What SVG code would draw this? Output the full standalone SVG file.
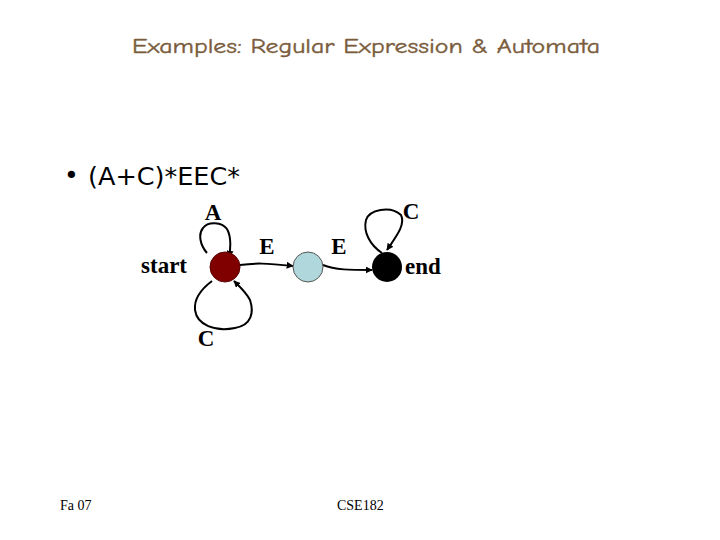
<svg xmlns="http://www.w3.org/2000/svg" width="720" height="540" viewBox="0 0 720 540">
<defs>
<marker id="ah" viewBox="0 0 10 10" refX="9" refY="5" markerWidth="7" markerHeight="7" markerUnits="userSpaceOnUse" orient="auto">
<path d="M0,0 L10,5 L0,10 z" fill="#000"/>
</marker>
<style>
.lbl{font-family:"Liberation Serif","Times New Roman",serif;font-weight:bold;font-size:23px;fill:#000}
.edge{fill:none;stroke:#000;stroke-width:2;marker-end:url(#ah)}
.title{font-family:"Comic Sans MS","Comic Neue","DejaVu Sans",sans-serif;font-size:21px;fill:#7a5c3c;stroke:#7a5c3c;stroke-width:0.4}
.foot{font-family:"Liberation Serif","Times New Roman",serif;font-size:14px;fill:#000}
.bullet{font-family:"Comic Sans MS","DejaVu Sans",sans-serif;font-size:25px;fill:#000}
</style>
</defs>
<rect width="720" height="540" fill="#fff"/>
<text class="title" x="132" y="53" textLength="468" lengthAdjust="spacingAndGlyphs">Examples: Regular Expression &amp; Automata</text>
<text class="bullet" x="64" y="184" font-size="16">•</text>
<text class="bullet" x="88" y="185" textLength="152" lengthAdjust="spacingAndGlyphs">(A+C)*EEC*</text>
<g id="connectors">
<path class="edge" d="M207,253 C200,245 198,234 203,228 C208,221 222,222 227,229 C231,236 231,246 229,257"/>
<path class="edge" d="M212,281 C200,290 194,300 195,310 C197,325 215,332 235,328 C252,325 254,312 250,300 C246,292 240,287 234,281"/>
<path class="edge" d="M240,265 C255,263 265,263 293,266"/>
<path class="edge" d="M323,265 C335,270 350,270 372,270"/>
<path class="edge" d="M382,253 C370,245 363,232 366,220 C369,210 390,205 401,215 C406,225 395,238 387,250"/>
</g>
<g id="q0"><circle cx="225" cy="267" r="15" fill="#800000" stroke="#5a0000" stroke-width="1"/><text class="lbl" x="187" y="273" text-anchor="end">start</text></g>
<g id="q1"><circle cx="308" cy="267" r="15" fill="#b0d8dc" stroke="#555" stroke-width="1"/></g>
<g id="q2"><circle cx="387" cy="267" r="15" fill="#000"/><text class="lbl" x="405" y="274">end</text></g>
<g id="labels">
<text class="lbl" x="213" y="220" text-anchor="middle">A</text>
<text class="lbl" x="206" y="346" text-anchor="middle">C</text>
<text class="lbl" x="267" y="254" text-anchor="middle">E</text>
<text class="lbl" x="339" y="254" text-anchor="middle">E</text>
<text class="lbl" x="411" y="219" text-anchor="middle">C</text>
</g>
<text class="foot" x="60" y="510">Fa 07</text>
<text class="foot" x="337" y="510">CSE182</text>
</svg>
